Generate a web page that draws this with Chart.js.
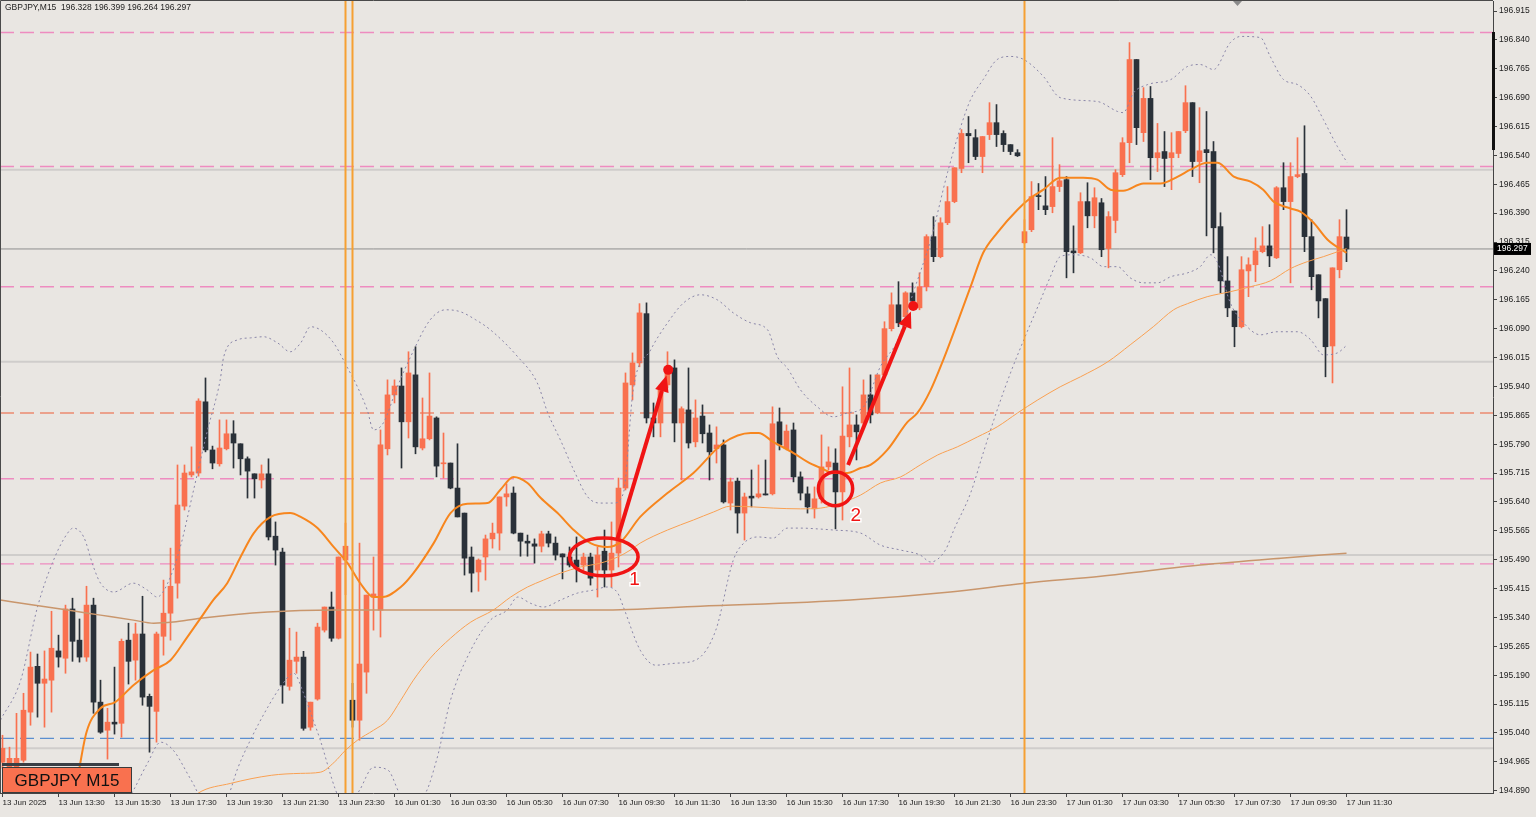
<!DOCTYPE html>
<html>
<head>
<meta charset="utf-8">
<script src="https://cdn.jsdelivr.net/npm/chart.js@4.4.1/dist/chart.umd.min.js"></script>
<style>
  html, body { margin: 0; padding: 0; background: #e9e6e2; }
  canvas { display: block; }
</style>
</head>
<body>
<canvas id="myChart" width="1536" height="817"></canvas>
<script>
// GBPJPY M15 candles, index 0 = 13 Jun 11:30
const opens = [
  194.964,194.948,194.951,194.969,195.094,195.213,195.169,195.177,195.253,195.234,
  195.362,195.281,195.237,195.372,195.120,195.047,195.068,195.065,195.281,195.229,
  195.297,195.135,195.096,195.291,195.351,195.429,195.629,195.710,195.715,195.900,
  195.775,195.739,195.778,195.817,195.791,195.752,195.713,195.697,195.713,195.551,
  195.510,195.161,195.226,195.237,195.055,195.128,195.307,195.367,195.286,195.489,
  195.125,195.073,195.198,195.393,195.359,195.778,195.918,195.941,195.848,195.970,
  195.780,195.804,195.858,195.739,195.741,195.676,195.611,195.497,195.458,195.497,
  195.544,195.559,195.653,195.663,195.559,195.538,195.531,195.525,195.557,195.533,
  195.505,195.497,195.489,195.476,195.497,195.463,195.512,195.463,195.507,195.676,
  195.944,196.001,196.129,195.858,195.845,195.944,195.988,195.845,195.879,195.796,
  195.863,195.819,195.778,195.788,195.637,195.694,195.611,195.655,195.653,195.661,
  195.661,195.848,195.778,195.827,195.705,195.661,195.622,195.648,195.731,195.741,
  195.666,195.809,195.840,195.845,195.918,195.871,195.970,196.090,196.152,196.121,
  196.183,196.144,196.199,196.329,196.277,196.365,196.420,196.506,196.597,196.586,
  196.537,196.594,196.625,196.597,196.568,196.547,196.313,196.347,196.435,196.409,
  196.407,196.459,196.477,196.292,196.287,196.420,196.383,196.417,196.298,196.371,
  196.490,196.573,196.789,196.599,196.688,196.534,196.550,196.534,196.545,196.604,
  196.677,196.524,196.555,196.550,196.355,196.214,196.136,196.095,196.240,196.256,
  196.290,196.305,196.274,196.456,196.420,196.485,196.493,196.329,196.230,196.168,
  196.045,196.243,196.328
];
const highs = [
  195.034,195.003,195.091,195.143,195.250,195.245,195.253,195.356,195.294,195.372,
  195.390,195.336,195.421,195.390,195.177,195.104,195.211,195.284,195.325,195.325,
  195.395,195.141,195.302,195.437,195.520,195.736,195.736,195.783,195.908,195.962,
  195.785,195.853,195.853,195.851,195.791,195.757,195.713,195.736,195.752,195.588,
  195.520,195.312,195.302,195.252,195.120,195.325,195.367,195.406,195.497,195.585,
  195.169,195.533,195.398,195.497,195.827,195.957,195.957,195.988,196.030,196.043,
  195.910,195.975,195.861,195.819,195.741,195.791,195.611,195.523,195.492,195.554,
  195.585,195.653,195.687,195.679,195.559,195.554,195.544,195.564,195.564,195.549,
  195.505,195.523,195.549,195.507,195.507,195.523,195.567,195.588,195.702,195.975,
  196.027,196.155,196.157,195.897,195.944,196.030,196.009,195.887,195.988,195.905,
  195.892,195.840,195.835,195.801,195.702,195.702,195.663,195.723,195.736,195.749,
  195.887,195.884,195.840,195.845,195.718,195.679,195.679,195.814,195.783,195.778,
  195.939,195.988,195.866,195.957,195.970,195.970,196.108,196.183,196.212,196.186,
  196.209,196.235,196.334,196.381,196.378,196.459,196.508,196.607,196.641,196.607,
  196.589,196.677,196.672,196.604,196.568,196.555,196.373,196.472,196.467,196.485,
  196.586,196.516,196.485,196.357,196.443,196.469,196.456,196.428,196.394,196.503,
  196.586,196.833,196.789,196.716,196.719,196.623,196.602,196.599,196.602,196.721,
  196.677,196.664,196.654,196.576,196.391,196.277,196.136,196.277,196.274,196.326,
  196.355,196.360,196.459,196.521,196.521,196.586,196.617,196.373,196.230,196.168,
  196.248,196.373,196.399
];
const lows = [
  194.948,194.930,194.943,194.964,195.060,195.081,195.055,195.094,195.211,195.195,
  195.226,195.224,195.226,195.091,195.039,194.972,195.037,195.029,195.167,195.177,
  195.112,194.990,195.016,195.242,195.281,195.390,195.619,195.705,195.707,195.770,
  195.726,195.733,195.775,195.728,195.710,195.650,195.650,195.676,195.541,195.476,
  195.117,195.151,195.195,195.047,195.047,195.125,195.302,195.278,195.284,195.399,
  195.055,195.021,195.143,195.307,195.289,195.762,195.897,195.728,195.806,195.765,
  195.775,195.801,195.705,195.702,195.674,195.601,195.450,195.406,195.408,195.437,
  195.520,195.515,195.629,195.557,195.499,195.499,195.481,195.510,195.523,195.489,
  195.440,195.471,195.432,195.463,195.424,195.393,195.419,195.419,195.471,195.671,
  195.905,195.991,195.845,195.809,195.809,195.936,195.796,195.697,195.780,195.783,
  195.793,195.697,195.741,195.637,195.619,195.559,195.541,195.627,195.650,195.658,
  195.658,195.775,195.775,195.692,195.645,195.611,195.598,195.637,195.723,195.570,
  195.593,195.783,195.749,195.840,195.845,195.869,195.965,196.084,196.095,196.118,
  196.160,196.139,196.188,196.264,196.274,196.360,196.417,196.495,196.521,196.529,
  196.495,196.581,196.563,196.550,196.542,196.537,196.311,196.342,196.399,196.386,
  196.391,196.446,196.222,196.235,196.285,196.352,196.352,196.277,196.248,196.339,
  196.485,196.521,196.568,196.576,196.477,196.498,196.459,196.451,196.534,196.599,
  196.485,196.469,196.331,196.287,196.183,196.121,196.043,196.092,196.173,196.212,
  196.287,196.251,196.272,196.399,196.209,196.482,196.290,196.191,196.118,195.965,
  195.949,196.222,196.264
];
const closes = [
  195.000,194.974,194.974,195.099,195.211,195.169,195.180,195.260,195.237,195.362,
  195.278,195.237,195.372,195.120,195.042,195.068,195.063,195.278,195.226,195.297,
  195.133,195.109,195.297,195.351,195.421,195.632,195.715,195.718,195.902,195.775,
  195.741,195.780,195.817,195.793,195.752,195.720,195.700,195.713,195.549,195.515,
  195.164,195.229,195.237,195.052,195.120,195.315,195.367,195.286,195.497,195.525,
  195.073,195.219,195.398,195.401,195.788,195.918,195.941,195.848,195.975,195.783,
  195.804,195.863,195.733,195.741,195.676,195.601,195.494,195.455,195.489,195.544,
  195.559,195.653,195.661,195.559,195.538,195.533,195.525,195.557,195.533,195.502,
  195.497,195.476,195.468,195.497,195.442,195.502,195.463,195.507,195.676,195.949,
  196.001,196.131,195.858,195.845,195.934,195.983,195.845,195.882,195.793,195.858,
  195.817,195.770,195.788,195.640,195.692,195.611,195.653,195.650,195.661,195.658,
  195.843,195.788,195.824,195.705,195.663,195.627,195.648,195.731,195.744,195.666,
  195.811,195.840,195.822,195.918,195.866,195.970,196.090,196.152,196.105,196.183,
  196.162,196.199,196.329,196.277,196.365,196.420,196.508,196.597,196.591,196.537,
  196.589,196.625,196.594,196.568,196.550,196.539,196.342,196.433,196.433,196.399,
  196.459,196.474,196.290,196.287,196.420,196.383,196.430,196.295,196.381,196.495,
  196.573,196.789,196.612,196.688,196.534,196.547,196.532,196.547,196.602,196.677,
  196.524,196.552,196.547,196.352,196.214,196.144,196.095,196.243,196.256,196.292,
  196.305,196.279,196.456,196.420,196.485,196.490,196.329,196.225,196.162,196.043,
  196.248,196.329,196.297
];

// indicator lines: [bar index, price]
const maFast = [
  [8.3,194.787],[10.1,194.865],[12.0,195.042],[14.0,195.104],[16.1,195.120],[18.7,195.164],
  [21.6,195.203],[24.0,195.229],[26.4,195.289],[28.3,195.338],[30.1,195.385],[32.1,195.429],
  [34.0,195.497],[35.9,195.559],[38.3,195.601],[41.1,195.611],[42.6,195.601],[45.0,195.572],
  [47.3,195.523],[49.3,195.481],[51.1,195.429],[53.0,195.393],[54.3,195.393],[56.9,195.419],
  [58.7,195.455],[61.6,195.533],[64.0,195.611],[66.4,195.635],[69.3,195.637],[71.1,195.671],
  [73.0,195.705],[75.0,195.689],[76.9,195.650],[79.3,195.611],[81.6,195.567],[84.0,195.533],
  [86.4,195.523],[88.3,195.536],[91.1,195.601],[95.0,195.663],[98.7,195.715],[103.0,195.793],
  [106.9,195.819],[108.0,195.819],[110.1,195.796],[113.0,195.767],[115.0,195.744],[116.9,195.728],
  [118.7,195.715],[120.7,195.715],[122.6,195.728],[124.0,195.736],[126.4,195.775],[129.3,195.848],
  [130.7,195.871],[132.6,195.931],[134.4,196.009],[136.4,196.105],[138.3,196.199],[140.1,196.287],
  [142.1,196.339],[145.0,196.399],[146.9,196.430],[148.7,196.451],[151.1,196.482],[154.4,196.482],
  [156.4,196.477],[158.3,196.451],[160.1,196.448],[163.0,196.467],[165.4,196.467],[167.9,196.485],
  [169.7,196.503],[172.1,196.521],[173.6,196.521],[175.9,196.485],[178.3,196.472],[180.1,196.451],
  [181.6,196.420],[184.0,196.402],[185.4,196.394],[187.3,196.365],[189.3,196.321],[192.0,196.287]
];
const maSlow = [
  [26.9,194.865],[27.9,194.883],[32.6,194.909],[38.4,194.930],[42.6,194.935],[45.4,194.938],
  [47.4,194.964],[49.0,194.995],[50.7,195.021],[53.0,195.047],[55.0,195.073],[56.9,195.125],
  [58.7,195.177],[61.1,195.234],[64.0,195.286],[66.9,195.328],[70.1,195.359],[72.6,195.393],
  [75.0,195.419],[77.3,195.437],[79.7,195.455],[82.6,195.471],[85.4,195.481],[87.9,195.497],
  [89.7,195.515],[91.1,195.533],[95.0,195.567],[98.7,195.593],[101.6,195.614],[104.0,195.629],
  [107.3,195.627],[110.1,195.624],[114.0,195.622],[116.9,195.624],[119.7,195.637],[122.6,195.658],
  [125.4,195.689],[128.3,195.705],[131.1,195.736],[133.6,195.762],[136.4,195.783],[139.3,195.809],
  [142.1,195.835],[145.0,195.871],[147.9,195.905],[151.1,195.939],[154.0,195.965],[157.9,196.004],
  [161.1,196.048],[164.4,196.095],[167.3,196.139],[169.3,196.155],[172.1,196.173],[175.4,196.186],
  [178.3,196.199],[181.1,196.214],[184.0,196.246],[186.4,196.264],[188.7,196.277],[192.0,196.298]
];
const ma200 = [
  [-0.3,195.385],[4.4,195.372],[9.3,195.359],[14.0,195.346],[18.7,195.333],[21.6,195.325],
  [24.4,195.328],[28.3,195.338],[37.9,195.354],[47.3,195.359],[61.1,195.359],[85.4,195.359],
  [99.7,195.369],[121.1,195.385],[135.4,195.406],[146.0,195.429],[156.9,195.447],[171.1,195.476],
  [182.6,195.494],[192.0,195.507]
];
const bbUpper = [
  [-0.3,195.073],[2.6,195.177],[5.0,195.367],[7.3,195.489],[9.3,195.559],[10.1,195.572],
  [11.6,195.549],[13.0,195.471],[14.0,195.429],[15.9,195.406],[18.7,195.429],[20.7,195.411],
  [22.1,195.393],[23.6,195.429],[25.4,195.523],[27.3,195.671],[29.3,195.827],[31.1,195.957],
  [31.6,196.017],[33.6,196.061],[35.4,196.066],[37.3,196.069],[39.3,196.053],[41.1,196.030],
  [42.6,196.053],[44.0,196.095],[45.4,196.087],[47.3,196.053],[49.3,195.988],[50.7,195.939],
  [52.1,195.879],[53.0,195.827],[54.4,195.845],[56.4,195.939],[58.3,196.017],[61.1,196.113],
  [63.3,196.139],[65.4,196.134],[67.6,196.113],[69.7,196.087],[73.6,196.017],[76.4,195.949],
  [77.9,195.871],[79.7,195.801],[81.6,195.723],[83.6,195.653],[85.4,195.637],[87.3,195.637],
  [88.7,195.663],[90.1,195.931],[92.6,196.035],[95.0,196.105],[97.3,196.157],[99.7,196.178],
  [102.1,196.165],[104.4,196.131],[106.9,196.105],[109.3,196.087],[110.7,196.017],[112.1,195.988],
  [114.0,195.931],[116.4,195.887],[118.7,195.861],[120.7,195.871],[123.0,195.887],[125.4,195.991],
  [127.9,196.061],[130.1,196.183],[132.6,196.321],[135.0,196.495],[136.9,196.615],[138.3,196.685],
  [140.1,196.737],[142.1,196.789],[144.0,196.797],[145.9,196.789],[148.7,196.745],[151.1,196.690],
  [156.4,196.680],[159.3,196.654],[160.1,196.651],[161.6,196.703],[163.6,196.724],[166.9,196.737],
  [169.3,196.771],[171.1,196.776],[173.0,196.763],[175.4,196.833],[176.9,196.849],[179.7,196.846],
  [181.1,196.797],[183.0,196.737],[185.0,196.724],[186.9,196.693],[188.7,196.633],[190.7,196.563],
  [192.1,196.521]
];
const bbLower = [
  [14.0,194.735],[16.9,194.839],[18.7,194.891],[20.7,194.961],[22.6,195.016],[24.4,194.995],
  [26.4,194.935],[27.9,194.883],[29.7,194.787],[32.3,194.878],[33.6,194.948],[35.4,195.021],
  [37.9,195.107],[39.7,195.159],[41.6,195.195],[43.0,195.143],[44.4,195.073],[45.4,195.021],
  [47.6,194.891],[49.0,194.839],[51.0,194.891],[53.0,194.951],[55.1,194.943],[57.1,194.878],
  [60.0,194.878],[62.0,194.969],[64.0,195.125],[66.9,195.255],[69.7,195.333],[72.1,195.359],
  [73.6,195.393],[75.4,195.377],[77.3,195.367],[79.7,195.385],[82.1,195.403],[84.4,195.411],
  [86.4,195.419],[87.9,195.403],[88.7,195.367],[91.1,195.255],[93.3,195.216],[96.1,195.221],
  [99.0,195.229],[101.9,195.307],[104.4,195.489],[105.9,195.533],[107.9,195.549],[110.1,195.546],
  [112.1,195.572],[114.0,195.572],[116.4,195.570],[118.7,195.567],[122.6,195.559],[125.4,195.528],
  [128.3,195.515],[131.1,195.502],[132.6,195.484],[134.7,195.515],[135.9,195.567],[138.3,195.663],
  [140.1,195.767],[142.1,195.879],[144.0,195.975],[145.9,196.061],[147.9,196.147],[149.7,196.225],
  [151.1,196.277],[153.0,196.282],[155.4,196.274],[157.3,196.251],[159.3,196.251],[161.1,196.222],
  [163.0,196.209],[165.0,196.209],[166.9,196.225],[169.3,196.235],[171.1,196.251],[172.6,196.282],
  [173.6,196.261],[175.4,196.157],[177.3,196.105],[179.7,196.074],[182.1,196.082],[185.0,196.082],
  [186.9,196.061],[188.7,196.022],[190.7,196.027],[192.1,196.048]
];

// horizontal levels and day separators
const pinkLevels = [196.859, 196.511, 196.199, 195.700, 195.479];
const redLevels = [195.871];
const greyLevels = [196.503, 196.004, 195.502, 195.000];
const blueLevels = [195.026];
const separators = [49, 50, 146];

const yTicks = [196.915,196.840,196.765,196.690,196.615,196.540,196.465,196.390,196.315,196.240,
  196.165,196.090,196.015,195.940,195.865,195.790,195.715,195.640,195.565,195.490,
  195.415,195.340,195.265,195.190,195.115,195.040,194.965,194.890];
const xTickLabels = ['13 Jun 2025','13 Jun 13:30','13 Jun 15:30','13 Jun 17:30','13 Jun 19:30',
  '13 Jun 21:30','13 Jun 23:30','16 Jun 01:30','16 Jun 03:30','16 Jun 05:30','16 Jun 07:30',
  '16 Jun 09:30','16 Jun 11:30','16 Jun 13:30','16 Jun 15:30','16 Jun 17:30','16 Jun 19:30',
  '16 Jun 21:30','16 Jun 23:30','17 Jun 01:30','17 Jun 03:30','17 Jun 05:30','17 Jun 07:30',
  '17 Jun 09:30','17 Jun 11:30'];

// hand drawn marks: [index, price]
const ovals = [[85.9,195.497,4.9,0.049],[119.0,195.674,2.45,0.044]];
const arrows = [[87.8,195.541,95.1,195.983],[120.8,195.736,130.1,196.149]];
const marks = [['1',90.3,195.437],['2',121.9,195.605]];

const xMin = -2.5 / 7, xMax = xMin + 1493 / 7;
const yMin = 194.884, yMax = 196.941;

const bull = '#f9714f', bear = '#2a3139';
function candleColor(c) {
  const i = c.dataIndex;
  return closes[i] >= opens[i] ? bull : bear;
}
const pts = arr => arr.map(p => ({x: p[0], y: p[1]}));
const hline = p => [{x: xMin, y: p}, {x: xMax, y: p}];

let datasets = [];
function addLine(data, color, width, dash, order, smooth) {
  datasets.push({
    type: 'line', data: data, borderColor: color, borderWidth: width,
    borderDash: dash || [], pointRadius: 0, fill: false, order: order,
    cubicInterpolationMode: smooth ? 'monotone' : 'default', tension: 0
  });
}
greyLevels.forEach(p => addLine(hline(p), '#cfcdcb', 2, null, 12));
pinkLevels.forEach(p => addLine(hline(p), '#ee8cc0', 1.4, [14, 6], 11));
redLevels.forEach(p => addLine(hline(p), '#eb8a70', 1.4, [14, 6], 11));
blueLevels.forEach(p => addLine(hline(p), '#5b8fd0', 1.3, [14, 6], 11));
addLine(hline(closes[closes.length - 1]), '#8e8e8e', 1, null, 11);

datasets.push({
  type: 'bar', data: lows.map((l, i) => ({x: i, y: [l, highs[i]]})),
  backgroundColor: candleColor, barThickness: 1, grouped: false, order: 8, minBarLength: 1
});
datasets.push({
  type: 'bar', data: opens.map((o, i) => ({x: i, y: [o, closes[i]]})),
  backgroundColor: candleColor, barThickness: 5, grouped: false, order: 7, minBarLength: 1
});

addLine(pts(ma200), '#c9966c', 1.5, null, 5, true);
addLine(pts(bbUpper), '#8985a8', 1, [2, 3], 5, true);
addLine(pts(bbLower), '#8985a8', 1, [2, 3], 5, true);
addLine(pts(maSlow), '#f9a052', 1, null, 4, true);
addLine(pts(maFast), '#f7861e', 2, null, 4, true);
separators.forEach(s => addLine([{x: s, y: yMin}, {x: s, y: yMax}], '#f6a033', 2, null, 3));

function drawArrow(c, x1, y1, x2, y2) {
  const a = Math.atan2(y2 - y1, x2 - x1);
  const tx = x2 - 6 * Math.cos(a), ty = y2 - 6 * Math.sin(a);
  const bx = tx - 16 * Math.cos(a), by = ty - 16 * Math.sin(a);
  c.beginPath(); c.moveTo(x1, y1); c.lineTo(bx, by); c.stroke();
  c.beginPath();
  c.moveTo(tx, ty);
  c.lineTo(bx + 7 * Math.sin(a), by - 7 * Math.cos(a));
  c.lineTo(bx - 7 * Math.sin(a), by + 7 * Math.cos(a));
  c.closePath(); c.fill();
  c.beginPath(); c.arc(x2, y2, 5, 0, Math.PI * 2); c.fill();
}

const overlay = {
  id: 'overlay',
  afterDatasetsDraw(chart) {
    const c = chart.ctx, xs = chart.scales.x, ys = chart.scales.y, a = chart.chartArea;
    c.save();
    // frame
    c.strokeStyle = '#4a4a4a'; c.lineWidth = 1;
    c.beginPath(); c.moveTo(a.left + 0.5, a.bottom); c.lineTo(a.left + 0.5, a.top - 0.5);
    c.lineTo(a.right, a.top - 0.5); c.stroke();
    // red marks
    c.strokeStyle = '#f01414'; c.fillStyle = '#f01414'; c.lineWidth = 3.5;
    ovals.forEach(o => {
      const cx = xs.getPixelForValue(o[0]), cy = ys.getPixelForValue(o[1]);
      const rx = xs.getPixelForValue(o[0] + o[2]) - cx, ry = cy - ys.getPixelForValue(o[1] + o[3]);
      c.beginPath(); c.ellipse(cx, cy, rx, ry, 0, 0, Math.PI * 2); c.stroke();
    });
    c.lineWidth = 4;
    arrows.forEach(r => drawArrow(c, xs.getPixelForValue(r[0]), ys.getPixelForValue(r[1]),
      xs.getPixelForValue(r[2]), ys.getPixelForValue(r[3])));
    c.font = '19px "Liberation Sans"'; c.textAlign = 'center'; c.textBaseline = 'middle';
    marks.forEach(m => {
      const x = xs.getPixelForValue(m[1]), y = ys.getPixelForValue(m[2]);
      c.lineWidth = 3; c.strokeStyle = '#ffffff'; c.strokeText(m[0], x, y);
      c.fillStyle = '#f01414'; c.fillText(m[0], x, y);
    });
    // header
    const n = closes.length - 1;
    c.font = '8.5px "Liberation Sans"'; c.textAlign = 'left'; c.textBaseline = 'middle';
    c.fillStyle = '#1e1e1e';
    c.fillText('GBPJPY,M15  ' + opens[n].toFixed(3) + ' ' + highs[n].toFixed(3) + ' ' +
      lows[n].toFixed(3) + ' ' + closes[n].toFixed(3), 5, 8);
    // shift marker
    c.fillStyle = '#8a8a8a';
    c.beginPath(); c.moveTo(1233, 1); c.lineTo(1242, 1); c.lineTo(1237.5, 6); c.closePath(); c.fill();
    // scale bar on price axis
    c.fillStyle = '#111111'; c.fillRect(a.right - 1, 32, 3, 118);
    // last price box
    const py = ys.getPixelForValue(closes[n]);
    c.fillStyle = '#000000'; c.fillRect(a.right + 1, py - 6, 37, 12);
    c.fillStyle = '#ffffff'; c.font = '8.5px "Liberation Sans"';
    c.fillText(closes[n].toFixed(3), a.right + 4, py);
    // symbol label
    c.fillStyle = '#3a3f45'; c.fillRect(2, 763, 117, 3);
    c.fillStyle = '#f9714f'; c.fillRect(2, 767, 130, 26);
    c.strokeStyle = '#3a3a3a'; c.lineWidth = 1; c.strokeRect(2.5, 767.5, 129, 25);
    c.fillStyle = '#111111'; c.font = '17px "Liberation Sans"'; c.textAlign = 'center';
    c.fillText('GBPJPY M15', 67, 781);
    c.restore();
  }
};

function noPad(s) {
  s.paddingTop = 0; s.paddingBottom = 0; s.paddingLeft = 0; s.paddingRight = 0;
}

const ctx = document.getElementById('myChart');
new Chart(ctx, {
  type: 'bar',
  data: { datasets: datasets },
  options: {
    responsive: false,
    animation: false,
    devicePixelRatio: 1,
    layout: { padding: { left: 0, top: 1, right: 0, bottom: 0 } },
    plugins: { legend: { display: false }, tooltip: { enabled: false } },
    scales: {
      x: {
        type: 'linear', min: xMin, max: xMax, offset: false,
        grid: { drawOnChartArea: false, offset: false, tickLength: 4, color: '#444' },
        border: { color: '#444' },
        afterBuildTicks: s => { s.ticks = xTickLabels.map((t, k) => ({ value: k * 8 })); },
        afterFit: s => { s.height = 24; noPad(s); },
        ticks: {
          align: 'start', autoSkip: false, maxRotation: 0, padding: 1, color: '#222',
          font: { size: 8, family: 'Liberation Sans' },
          callback: (v, i) => xTickLabels[i]
        }
      },
      y: {
        position: 'right', min: yMin, max: yMax, beginAtZero: false,
        grid: { drawOnChartArea: false, tickLength: 4, color: '#444' },
        border: { color: '#444' },
        afterBuildTicks: s => { s.ticks = yTicks.map(v => ({ value: v })); },
        afterFit: s => { s.width = 43; noPad(s); },
        ticks: {
          autoSkip: false, padding: 2, color: '#222', crossAlign: 'near',
          font: { size: 8.5, family: 'Liberation Sans' },
          callback: v => v.toFixed(3)
        }
      }
    }
  },
  plugins: [overlay]
});
</script>
</body>
</html>
